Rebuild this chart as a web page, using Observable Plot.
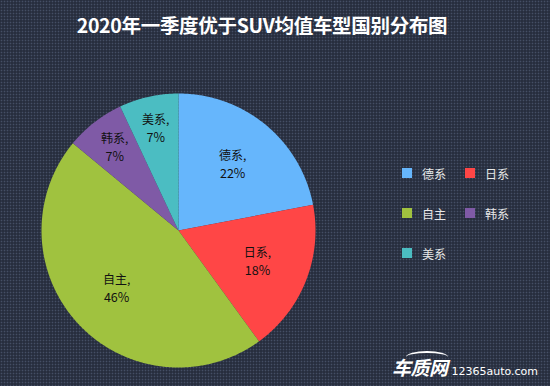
<!DOCTYPE html>
<html><head><meta charset="utf-8">
<script src="https://cdn.jsdelivr.net/npm/d3@7"></script>
<script src="https://cdn.jsdelivr.net/npm/@observablehq/plot@0.6"></script>
<style>
html,body{margin:0;padding:0;background:#282f3f;}
#wrap{position:relative;width:550px;height:386px;overflow:hidden;background-color:#272e3e;
  background-image:radial-gradient(circle, rgba(78,90,114,0.75) 0.7px, transparent 1.1px);
  background-size:3px 3px;
  font-family:"Noto Sans CJK SC","Noto Sans",sans-serif;}
#title{position:absolute;left:-13px;top:0;width:550px;height:50px;line-height:50px;text-align:center;color:#fff;font-weight:bold;font-size:19.5px;letter-spacing:-0.3px;}
#chart{position:absolute;left:0;top:50px;}
#legend{position:absolute;left:402px;top:153px;width:140px;}
#legend .lg-swatches{font-family:"Noto Sans CJK SC",sans-serif !important;font-size:12px !important;margin:0 !important;color:#e8e8e8 !important;}
#legend .lg-swatches-wrap{display:flex !important;flex-wrap:wrap !important;width:130px !important;min-height:0 !important;}
#legend .lg-swatch{display:inline-flex !important;align-items:center !important;width:63px !important;height:40px !important;margin:0 !important;}
#legend .lg-swatch > svg{margin-right:10px !important;}
#wm{position:absolute;left:392px;top:353px;color:#fff;white-space:nowrap;}
#wm .logo{font-size:19px;font-weight:bold;font-style:italic;letter-spacing:-0.5px;position:relative;}
#wm .logo:before{content:"";position:absolute;left:14px;top:-2px;width:42px;height:10px;border-top:2px solid #fff;border-radius:50% 50% 0 0;}
#wm .url{font-family:"DejaVu Sans",sans-serif;font-size:11px;margin-left:4px;}
</style>
</head><body>
<div id="wrap">
  <div id="title">2020年一季度优于SUV均值车型国别分布图</div>
  <div id="chart"></div>
  <div id="legend"></div>
  <div id="wm"><span class="logo">车质网</span><span class="url">12365auto.com</span></div>
</div>
<script>
const categories = ["德系", "日系", "自主", "韩系", "美系"];
const values = [22, 18, 46, 7, 7];
const colors = ["#66b6fc", "#ff4646", "#a0c23f", "#7f5aa6", "#4bbdc2"];

const data = categories.map((c, i) => ({cat: c, value: values[i]}));
const total = d3.sum(values);
const R = 137;
const arcs = d3.pie().sort(null).value(d => d.value)(data);

const pts = [];
for (const a of arcs) {
  pts.push({cat: a.data.cat, x: 0, y: 0});
  const n = Math.max(2, Math.ceil((a.endAngle - a.startAngle) / (Math.PI / 360)));
  for (let i = 0; i <= n; i++) {
    const t = a.startAngle + (a.endAngle - a.startAngle) * i / n;
    pts.push({cat: a.data.cat, x: R * Math.sin(t), y: -R * Math.cos(t)});
  }
  pts.push({cat: a.data.cat, x: 0, y: 0});
}

const labels = arcs.map(a => {
  const m = (a.startAngle + a.endAngle) / 2;
  const share = a.data.value / total;
  const r = R * (share < 0.1 ? 0.76 : 0.62);
  return {x: r * Math.sin(m), y: -r * Math.cos(m), name: `${a.data.cat},`, pct: `${Math.round(share * 100)}%`};
});

const plot = Plot.plot({
  width: 550, height: 336, margin: 0,
  x: {domain: [-178, 372], range: [0, 550], axis: null},
  y: {domain: [-180, 156], range: [0, 336], axis: null},
  color: {domain: categories, range: colors},
  style: {background: "transparent", fontFamily: "'Noto Sans CJK SC', sans-serif", overflow: "visible"},
  marks: [
    Plot.line(pts, {x: "x", y: "y", z: "cat", fill: "cat", stroke: "none", curve: "linear"}),
    Plot.text(labels, {x: "x", y: "y", text: "name", fontSize: 12, dy: -8.9, fill: "#111"}),
    Plot.text(labels, {x: "x", y: "y", text: "pct", fontSize: 12.5, dy: 8.9, fill: "#111"})
  ]
});
document.getElementById("chart").appendChild(plot);

const lg = Plot.legend({color: {type: "ordinal", domain: categories, range: colors}, legend: "swatches", swatchSize: 10, className: "lg"});
document.getElementById("legend").appendChild(lg);
</script>
</body></html>
